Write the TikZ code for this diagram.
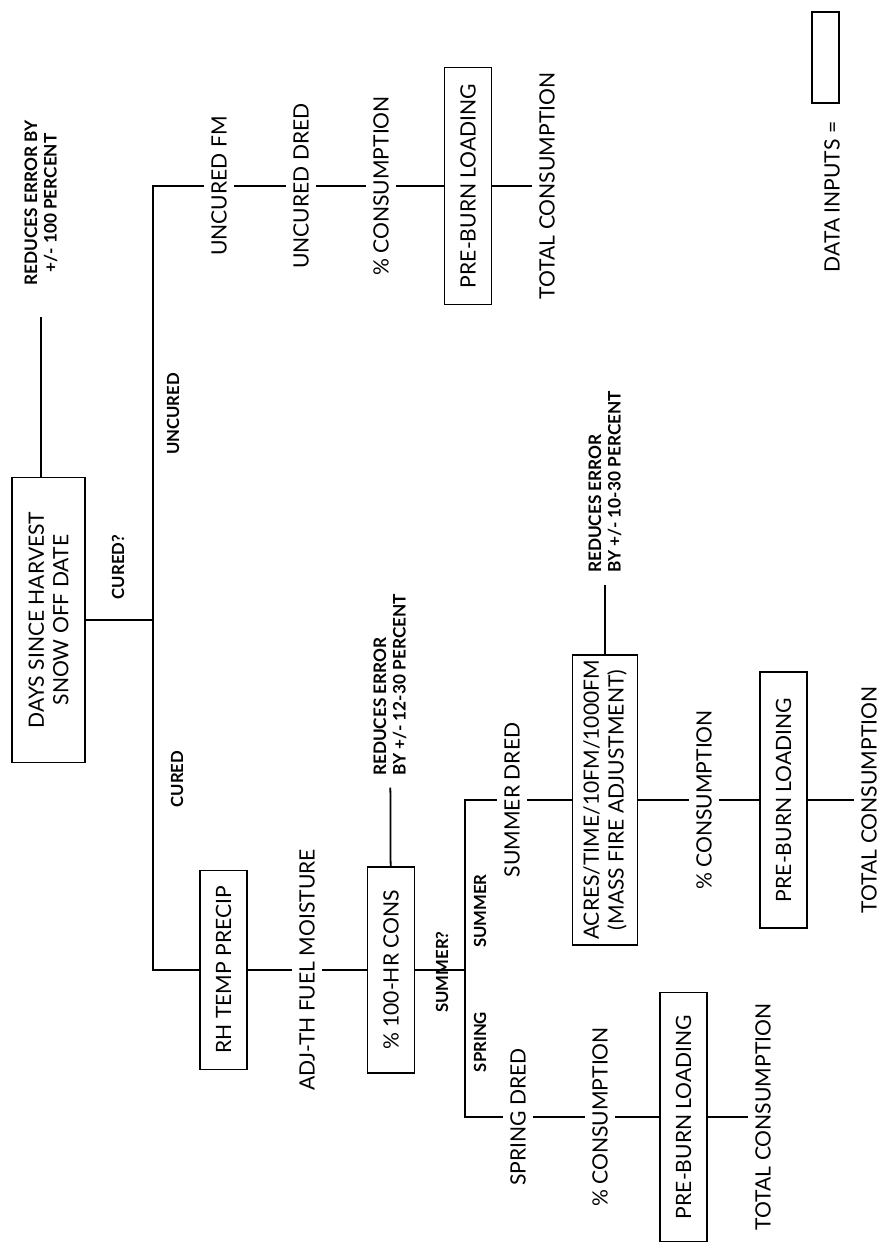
\documentclass[tikz,border=0pt]{standalone}
\usepackage{fontspec}
\setmainfont{Lato}
\usetikzlibrary{positioning}

\begin{document}
\begin{tikzpicture}[
  x=0.2mm, y=-0.2mm,
  every node/.style={rotate=90,font=\fontsize{12}{14}\selectfont,inner sep=1.4mm},
  inbox/.style={draw,line width=1.1pt,align=center,inner sep=1mm,minimum height=9.4mm},
  tag/.style={font=\fontsize{9.5}{10}\selectfont\bfseries,inner sep=1pt},
  errnote/.style={font=\fontsize{9.8}{11}\selectfont\bfseries,align=left,outer sep=2mm,inner sep=1pt},
  link/.style={line width=1pt}
]
\useasboundingbox (0,0) rectangle (891,1258);

\node[errnote,align=center] (err100) at (41,203) {REDUCES ERROR BY\\+/- 100 PERCENT};
\node[inbox,minimum width=57mm,minimum height=14.6mm] (days) at (48.5,620) {DAYS SINCE HARVEST\\SNOW OFF DATE};
\coordinate (bus) at (153,620);

\node[tag] (cq) at (118,567) {CURED?};
\node[tag] (unc) at (173,414) {UNCURED};
\node[tag] (cur) at (177,779) {CURED};

\node (ufm) at (219,186) {UNCURED FM};
\node (udred) at (301,186) {UNCURED DRED};
\node (cons1) at (381,186) {\% CONSUMPTION};
\node[inbox,minimum width=47.4mm] (pb1) at (468,186) {PRE-BURN LOADING};
\node (tot1) at (547,186) {TOTAL CONSUMPTION};

\node[inbox,minimum width=39.8mm] (rh) at (223.5,970) {RH TEMP PRECIP};
\node (adj) at (307,970) {ADJ-TH FUEL MOISTURE};
\node[inbox,minimum width=41.2mm] (hr) at (391,970) {\% 100-HR CONS};
\node[errnote] (err1230) at (390,685) {REDUCES ERROR\\BY +/- 12-30 PERCENT};
\node[tag] (smq) at (442,972) {SUMMER?};
\coordinate (sq) at (465,970);
\node[tag] (smr) at (480,911) {SUMMER};
\node[tag] (spr) at (480,1042) {SPRING};

\node (sdred) at (512,800) {SUMMER DRED};
\node[inbox,minimum width=53.6mm,minimum height=13mm] (acres) at (605,800) {ACRES/TIME/10FM/1000FM\\(MASS FIRE ADJUSTMENT)};
\node[errnote] (err1030) at (605,482) {REDUCES ERROR\\BY +/- 10-30 PERCENT};
\node (cons3) at (704,800) {\% CONSUMPTION};
\node[inbox,minimum width=51.2mm] (pb3) at (783.5,800) {PRE-BURN LOADING};
\node (tot3) at (869,800) {TOTAL CONSUMPTION};

\node (spdred) at (518,1117) {SPRING DRED};
\node (cons2) at (600,1117) {\% CONSUMPTION};
\node[inbox,minimum width=49.8mm] (pb2) at (683.5,1117) {PRE-BURN LOADING};
\node (tot2) at (763,1117) {TOTAL CONSUMPTION};

\node (keylbl) at (832,197) {DATA INPUTS =};
\node[draw,line width=1.1pt,minimum width=18.2mm,minimum height=5.4mm] (keybox) at (825.5,57.5) {};

\draw[link,shorten <=4mm] (err100) -- (err100 |- days.east);
\draw[link] (days) -- (bus);
\draw[link] (ufm) -| (bus) |- (rh);
\draw[link] (ufm) -- (udred);
\draw[link] (udred) -- (cons1);
\draw[link] (cons1) -- (pb1);
\draw[link] (pb1) -- (tot1);
\draw[link] (rh) -- (adj);
\draw[link] (adj) -- (hr);
\draw[link] (hr) -- (err1230);
\draw[link] (hr) -- (sq);
\draw[link] (sdred) -| (sq) |- (spdred);
\draw[link] (sdred) -- (acres);
\draw[link] (acres) -- (err1030);
\draw[link] (acres) -- (cons3);
\draw[link] (cons3) -- (pb3);
\draw[link] (pb3) -- (tot3);
\draw[link] (spdred) -- (cons2);
\draw[link] (cons2) -- (pb2);
\draw[link] (pb2) -- (tot2);
\end{tikzpicture}
\end{document}
